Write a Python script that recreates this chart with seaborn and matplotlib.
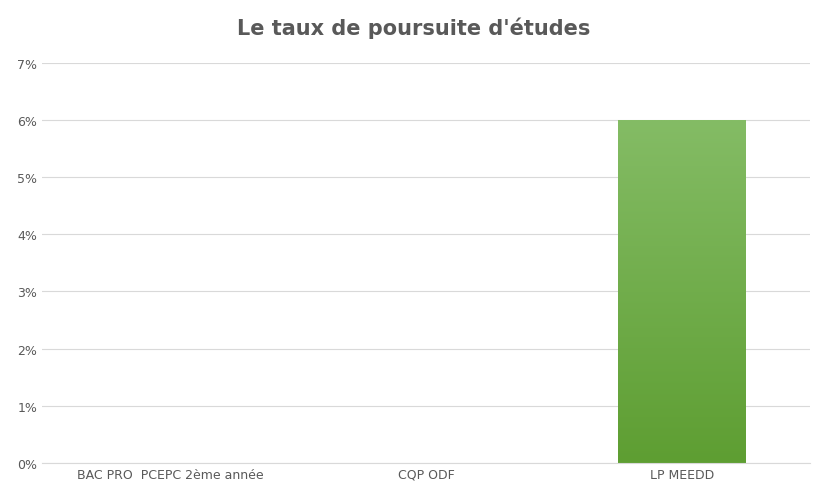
import matplotlib
matplotlib.use("Agg")
import matplotlib.pyplot as plt
import seaborn as sns
import numpy as np
import pandas as pd
from matplotlib.ticker import PercentFormatter

categories = ["BAC PRO  PCEPC 2ème année", "CQP ODF", "LP MEEDD"]
values = [0.0, 0.0, 0.06]
yticks = [0, 0.01, 0.02, 0.03, 0.04, 0.05, 0.06, 0.07]

df = pd.DataFrame({"cat": categories, "val": values})
fig = plt.figure(figsize=(8.27, 5.02), dpi=100)
ax = fig.add_axes([0.051, 0.076, 0.928, 0.797])
sns.barplot(data=df, x="cat", y="val", ax=ax, color="#70AD47", width=0.5, saturation=1)

# gradient fill
cmap = matplotlib.colors.LinearSegmentedColormap.from_list("g", ["#5E9E32", "#84BC65"])
for p in ax.patches:
    if p.get_height() > 0:
        x0, y0, w, h = p.get_x(), p.get_y(), p.get_width(), p.get_height()
        grad = np.linspace(0, 1, 256).reshape(-1, 1)
        im = ax.imshow(grad, extent=[x0, x0 + w, y0, y0 + h], origin="lower",
                       cmap=cmap, aspect="auto", zorder=2)
        im.set_clip_path(p)
        p.set_facecolor("none")

ax.set_xlim(-0.5, 2.5)
ax.set_ylim(0, 0.07)
ax.set_yticks(yticks)
ax.yaxis.set_major_formatter(PercentFormatter(1.0, decimals=0))
ax.grid(axis="y", color="#D9D9D9", linewidth=0.8)
ax.set_axisbelow(True)
for s in ["top", "right", "left"]:
    ax.spines[s].set_visible(False)
ax.spines["bottom"].set_color("#D9D9D9")
ax.tick_params(axis="both", length=0, labelsize=9, colors="#595959")
ax.set_xlabel("")
ax.set_ylabel("")
fig.suptitle("Le taux de poursuite d'études", y=0.965, fontsize=15,
             fontweight="bold", color="#595959")
fig.savefig("out.png", dpi=100)
